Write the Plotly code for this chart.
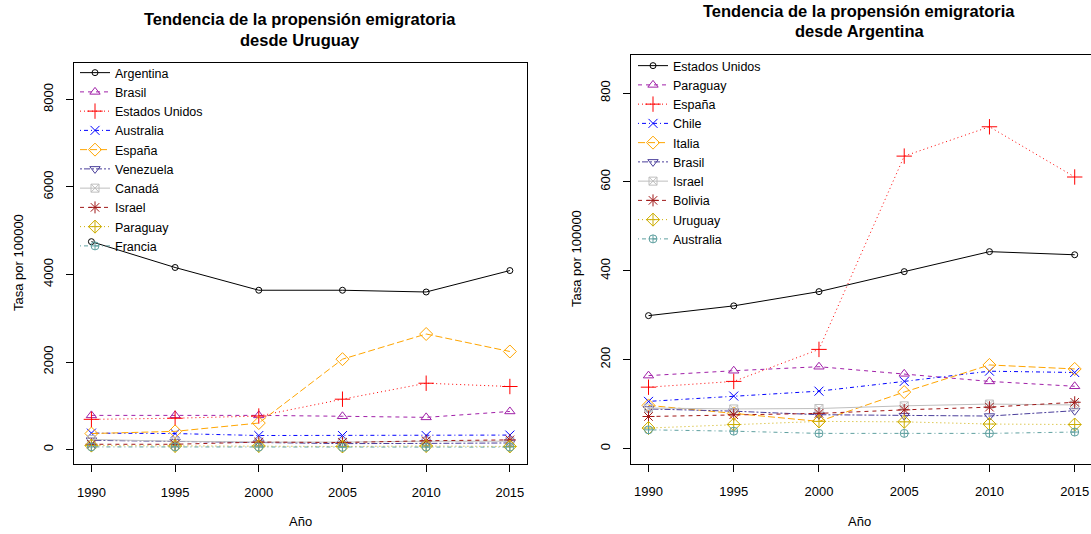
import plotly.graph_objects as go

years = [1990, 1995, 2000, 2005, 2010, 2015]

# Desde Uruguay
uy_names = ["Argentina", "Brasil", "Estados Unidos", "Australia", "España",
            "Venezuela", "Canadá", "Israel", "Paraguay", "Francia"]
uy_argentina = [4750, 4160, 3640, 3640, 3600, 4090]
uy_brasil = [780, 780, 780, 760, 735, 870]
uy_eeuu = [690, 715, 765, 1150, 1515, 1440]
uy_australia = [375, 365, 320, 320, 320, 330]
uy_espana = [365, 415, 605, 2065, 2640, 2240]
uy_venezuela = [210, 180, 150, 135, 140, 150]
uy_canada = [230, 190, 170, 170, 190, 190]
uy_israel = [120, 120, 170, 160, 200, 220]
uy_paraguay = [90, 80, 80, 70, 80, 70]
uy_francia = [60, 60, 55, 50, 55, 55]
uy_values = [uy_argentina, uy_brasil, uy_eeuu, uy_australia, uy_espana,
             uy_venezuela, uy_canada, uy_israel, uy_paraguay, uy_francia]

# Desde Argentina
ar_names = ["Estados Unidos", "Paraguay", "España", "Chile", "Italia",
            "Brasil", "Israel", "Bolivia", "Uruguay", "Australia"]
ar_eeuu = [299, 321, 353, 398, 443, 436]
ar_paraguay = [164, 175, 184, 168, 151, 140]
ar_espana = [138, 151, 223, 658, 724, 611]
ar_chile = [106, 118, 129, 151, 174, 171]
ar_italia = [97, 79, 61, 127, 188, 179]
ar_brasil = [89, 84, 76, 74, 73, 85]
ar_israel = [91, 89, 90, 96, 100, 98]
ar_bolivia = [72, 76, 79, 87, 93, 104]
ar_uruguay = [46, 54, 61, 60, 55, 54]
ar_australia = [42, 39, 34, 34, 34, 37]
ar_values = [ar_eeuu, ar_paraguay, ar_espana, ar_chile, ar_italia,
             ar_brasil, ar_israel, ar_bolivia, ar_uruguay, ar_australia]

x_ticks = [1990, 1995, 2000, 2005, 2010, 2015]
uy_y_ticks = [0, 2000, 4000, 6000, 8000]
ar_y_ticks = [0, 200, 400, 600, 800]

colors = ["#000000", "#A020A8", "#FF0000", "#0000FF", "#FFA500",
          "#4B3F9B", "#BEBEBE", "#A01818", "#CDAD00", "#5FA0A0"]
dashes = ["solid", "4px,4px", "1px,3px", "1px,3px,4px,3px", "7px,3px",
          "2px,2px,6px,2px", "solid", "4px,4px", "1px,3px", "1px,3px,4px,3px"]
symbols = ["circle-open", "triangle-up-open", "cross-thin-open", "x-thin-open",
           "diamond-open", "triangle-down-open", "square-x-open",
           "asterisk-open", "diamond-cross-open", "circle-cross-open"]
sizes = [6, 9, 11, 9, 10, 9, 8, 10, 10, 8]

fig = go.Figure()

for i, (name, vals) in enumerate(zip(uy_names, uy_values)):
    fig.add_trace(go.Scatter(
        x=years, y=vals, name=name, mode="lines+markers",
        line=dict(color=colors[i], width=1, dash=dashes[i]),
        marker=dict(symbol=symbols[i], size=sizes[i], color=colors[i],
                    line=dict(color=colors[i], width=1)),
        xaxis="x", yaxis="y", legend="legend"))

for i, (name, vals) in enumerate(zip(ar_names, ar_values)):
    fig.add_trace(go.Scatter(
        x=years, y=vals, name=name, mode="lines+markers",
        line=dict(color=colors[i], width=1, dash=dashes[i]),
        marker=dict(symbol=symbols[i], size=sizes[i], color=colors[i],
                    line=dict(color=colors[i], width=1)),
        xaxis="x2", yaxis="y2", legend="legend2"))

W, H = 1091, 534
font = "Liberation Sans, Arial, sans-serif"

axis_common = dict(showgrid=False, zeroline=False, showline=True,
                   linecolor="#000", linewidth=1, ticks="outside",
                   ticklen=7, tickcolor="#000",
                   tickfont=dict(family=font, size=13, color="#000"))

legend_common = dict(bgcolor="rgba(0,0,0,0)", borderwidth=0,
                     font=dict(family=font, size=12.5, color="#000"),
                     xanchor="left", yanchor="top", tracegroupgap=0)

title_font = dict(family=font, size=16.5, color="#000")
lab_font = dict(family=font, size=13, color="#000")

fig.update_layout(
    width=W, height=H,
    margin=dict(l=0, r=0, t=0, b=0),
    paper_bgcolor="white", plot_bgcolor="white",
    xaxis=dict(domain=[74 / W, 526.6 / W], range=[1988.96, 2016.0],
               tickvals=x_ticks, mirror=True, anchor="y",
               ticklabelstandoff=9, **axis_common),
    yaxis=dict(domain=[(H - 464.4) / H, (H - 62.7) / H], range=[-340, 8840],
               tickvals=uy_y_ticks, tickangle=-90, mirror=True, anchor="x",
               ticklabelstandoff=8, **axis_common),
    xaxis2=dict(domain=[631.2 / W, 1.0], range=[1988.985, 2015.956],
                tickvals=x_ticks, mirror=True, anchor="y2",
                ticklabelstandoff=9, **axis_common),
    yaxis2=dict(domain=[(H - 463.6) / H, (H - 54.8) / H], range=[-34, 886],
                tickvals=ar_y_ticks, tickangle=-90, mirror=False, anchor="x2",
                ticklabelstandoff=8, **axis_common),
    legend=dict(x=75 / W, y=(H - 58) / H, **legend_common),
    legend2=dict(x=633 / W, y=(H - 51) / H, **legend_common),
    annotations=[
        dict(text="<b>Tendencia de la propensión emigratoria</b>", x=300 / W,
             y=(H - 19) / H, xref="paper", yref="paper", showarrow=False,
             xanchor="center", yanchor="middle", font=title_font),
        dict(text="<b>desde Uruguay</b>", x=300 / W, y=(H - 40) / H,
             xref="paper", yref="paper", showarrow=False,
             xanchor="center", yanchor="middle", font=title_font),
        dict(text="<b>Tendencia de la propensión emigratoria</b>", x=859 / W,
             y=(H - 11) / H, xref="paper", yref="paper", showarrow=False,
             xanchor="center", yanchor="middle", font=title_font),
        dict(text="<b>desde Argentina</b>", x=859 / W, y=(H - 31) / H,
             xref="paper", yref="paper", showarrow=False,
             xanchor="center", yanchor="middle", font=title_font),
        dict(text="Año", x=300 / W, y=(H - 521) / H, xref="paper",
             yref="paper", showarrow=False, xanchor="center",
             yanchor="middle", font=lab_font),
        dict(text="Año", x=860 / W, y=(H - 521) / H, xref="paper",
             yref="paper", showarrow=False, xanchor="center",
             yanchor="middle", font=lab_font),
        dict(text="Tasa por 100000", x=18 / W, y=(H - 263) / H,
             xref="paper", yref="paper", showarrow=False, textangle=-90,
             xanchor="center", yanchor="middle", font=lab_font),
        dict(text="Tasa por 100000", x=576 / W, y=(H - 259) / H,
             xref="paper", yref="paper", showarrow=False, textangle=-90,
             xanchor="center", yanchor="middle", font=lab_font),
    ],
)

fig.write_html(
    "out.html",
    config={"displayModeBar": False},
    post_script="document.body.style.margin='0';document.body.style.overflow='hidden';",
)
